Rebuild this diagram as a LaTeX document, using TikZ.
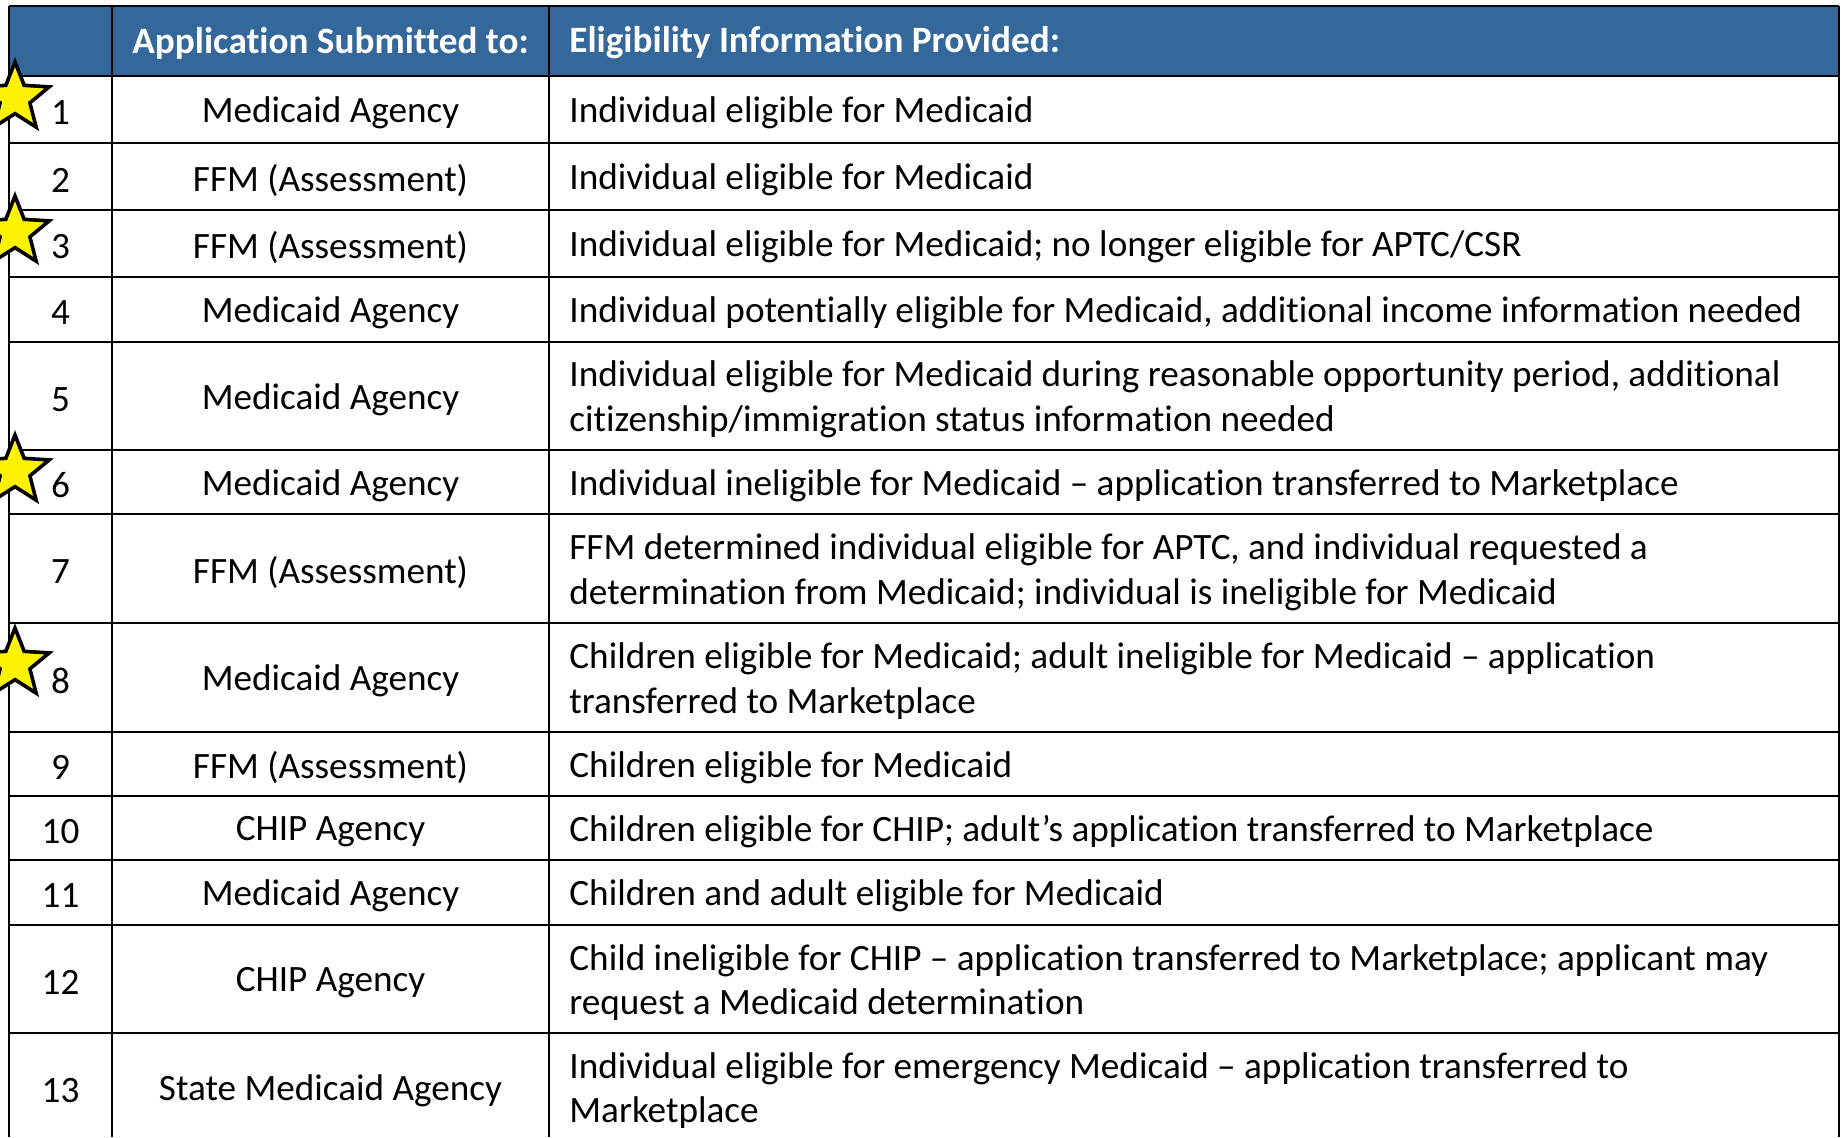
\documentclass[tikz,border=0pt]{standalone}
\usepackage{fontspec}
\setmainfont[Ligatures=NoCommon]{Carlito}
\usepackage{tikz}
\usetikzlibrary{shapes.geometric}
\definecolor{headblue}{RGB}{52,104,154}
\tikzstyle{rule} = [line width=1.4pt, black]
\tikzstyle{head} = [text=white, inner sep=0pt, font=\fontsize{18.6}{22.4}\selectfont\bfseries]
\tikzstyle{cell} = [inner sep=0pt]
\tikzstyle{info} = [anchor=west, align=left, inner sep=0pt]
\tikzstyle{starmark} = [star, star points=5, star point ratio=2.3, minimum size=36pt, inner sep=0pt, draw=black, fill=yellow, line width=1.8pt]

\begin{document}
\begin{tikzpicture}[x=0.5pt, y=-0.5pt, font=\fontsize{18.6}{22.4}\selectfont]
    \useasboundingbox (0,0) rectangle (1843,1137);
    \fill[headblue] (9,6) rectangle (1839,76);
    % grid
    \draw[rule] (9,6) -- (1839,6);
    \foreach \y in {76,143,210,277,342,450,514,623,732,796,860,925,1033}
        \draw[rule] (9,\y) -- (1839,\y);
    \foreach \x in {9,112,549,1839}
        \draw[rule] (\x,6) -- (\x,1137);
    % header
    \node[head] (h2) at (330.5,43) {Application Submitted to:};
    \node[head, anchor=west] (h3) at (569,43) {Eligibility Information Provided:};
    % rows
    \node[cell] (n1) at (60.5,113) {1};
    \node[cell] (a1) at (330.5,113) {Medicaid Agency};
    \node[info] (i1) at (569,113) {Individual eligible for Medicaid};
    \node[cell] (n2) at (60.5,180) {2};
    \node[cell] (a2) at (330.5,180) {FFM (Assessment)};
    \node[info] (i2) at (569,180) {Individual eligible for Medicaid};
    \node[cell] (n3) at (60.5,247) {3};
    \node[cell] (a3) at (330.5,247) {FFM (Assessment)};
    \node[info] (i3) at (569,247) {Individual eligible for Medicaid; no longer eligible for APTC/CSR};
    \node[cell] (n4) at (60.5,313) {4};
    \node[cell] (a4) at (330.5,313) {Medicaid Agency};
    \node[info] (i4) at (569,313) {Individual potentially eligible for Medicaid, additional income information needed};
    \node[cell] (n5) at (60.5,399.5) {5};
    \node[cell] (a5) at (330.5,399.5) {Medicaid Agency};
    \node[info] (i5) at (569,399.5) {Individual eligible for Medicaid during reasonable opportunity period, additional\\citizenship/immigration status information needed};
    \node[cell] (n6) at (60.5,485.5) {6};
    \node[cell] (a6) at (330.5,485.5) {Medicaid Agency};
    \node[info] (i6) at (569,485.5) {Individual ineligible for Medicaid – application transferred to Marketplace};
    \node[cell] (n7) at (60.5,572) {7};
    \node[cell] (a7) at (330.5,572) {FFM (Assessment)};
    \node[info] (i7) at (569,572) {FFM determined individual eligible for APTC, and individual requested a\\determination from Medicaid; individual is ineligible for Medicaid};
    \node[cell] (n8) at (60.5,681) {8};
    \node[cell] (a8) at (330.5,681) {Medicaid Agency};
    \node[info] (i8) at (569,681) {Children eligible for Medicaid; adult ineligible for Medicaid – application\\transferred to Marketplace};
    \node[cell] (n9) at (60.5,767.5) {9};
    \node[cell] (a9) at (330.5,767.5) {FFM (Assessment)};
    \node[info] (i9) at (569,767.5) {Children eligible for Medicaid};
    \node[cell] (n10) at (60.5,831.5) {10};
    \node[cell] (a10) at (330.5,831.5) {CHIP Agency};
    \node[info] (i10) at (569,831.5) {Children eligible for CHIP; adult’s application transferred to Marketplace};
    \node[cell] (n11) at (60.5,896) {11};
    \node[cell] (a11) at (330.5,896) {Medicaid Agency};
    \node[info] (i11) at (569,896) {Children and adult eligible for Medicaid};
    \node[cell] (n12) at (60.5,982.5) {12};
    \node[cell] (a12) at (330.5,982.5) {CHIP Agency};
    \node[info] (i12) at (569,982.5) {Child ineligible for CHIP – application transferred to Marketplace; applicant may\\request a Medicaid determination};
    \node[cell] (n13) at (60.5,1090.5) {13};
    \node[cell] (a13) at (330.5,1090.5) {State Medicaid Agency};
    \node[info] (i13) at (569,1090.5) {Individual eligible for emergency Medicaid – application transferred to\\Marketplace};
    % stars
    \node[starmark] (s1) at (15,98) {};
    \node[starmark] (s3) at (15,232) {};
    \node[starmark] (s6) at (15,471) {};
    \node[starmark] (s8) at (15,664) {};
\end{tikzpicture}
\end{document}
